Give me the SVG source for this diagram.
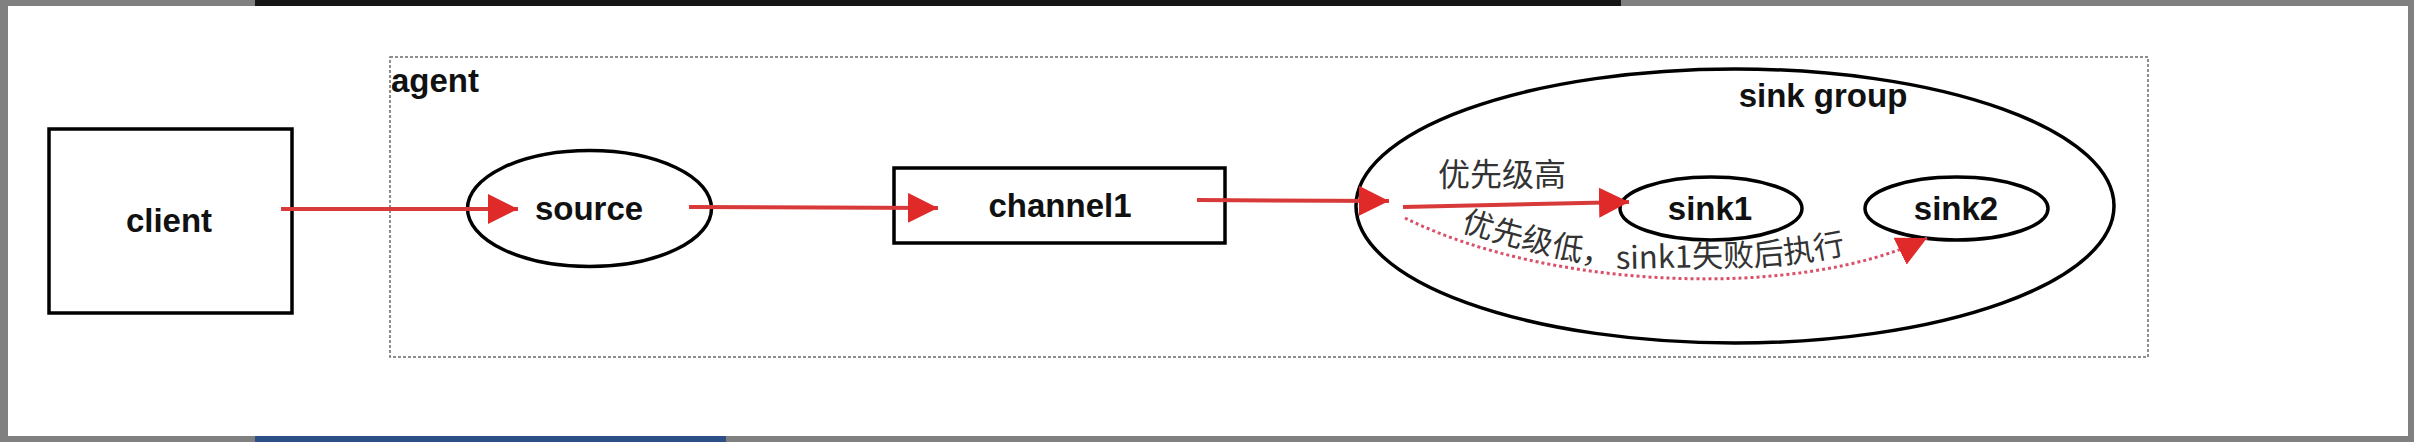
<svg xmlns="http://www.w3.org/2000/svg" xmlns:xlink="http://www.w3.org/1999/xlink" width="2414" height="442" viewBox="0 0 2414 442">
  <style>
    .box { fill: #ffffff; stroke: #000000; stroke-width: 3.5; }
    .node-text { font-family: "Liberation Sans", Arial, sans-serif; font-weight: bold; font-size: 33px; fill: #111111; text-anchor: middle; }
    .group-text { font-family: "Liberation Sans", Arial, sans-serif; font-weight: bold; font-size: 33px; fill: #111111; }
    .cn { font-family: "Noto Sans CJK SC", "Noto Sans", sans-serif; font-size: 32px; fill: #333333; }
    .cn-low { font-family: "Noto Sans CJK SC", "Noto Sans", sans-serif; font-size: 31px; fill: #333333; }
    .edge { fill: none; stroke: #d83a3a; stroke-width: 4; }
    .edge-dot { fill: none; stroke: #d9506a; stroke-width: 3; stroke-dasharray: 3 3; }
  </style>
  <defs>
    <marker id="arrow" markerUnits="userSpaceOnUse" markerWidth="32" markerHeight="30" viewBox="0 0 32 30" refX="30" refY="15" orient="auto">
      <path d="M0,0 L30,15 L0,30 Z" fill="#e02a2a"/>
    </marker>
    <path id="lowPath1" d="M1455,229 Q1530,253 1614,268"/>
    <path id="lowPath2" d="M1614,269 L1760,266"/>
    <path id="lowPath3" d="M1754,266 Q1810,263 1872,248"/>
  </defs>

  <g id="frame">
    <rect x="0" y="0" width="2414" height="442" fill="#808080"/>
    <rect x="255" y="0" width="1366" height="6" fill="#161616"/>
    <rect x="255" y="436" width="471" height="6" fill="#2d4f85"/>
    <rect x="8" y="6" width="2400" height="430" fill="#ffffff"/>
  </g>

  <g id="agent">
    <rect x="390" y="57" width="1758" height="300" fill="none" stroke="#6a6a6a" stroke-width="1.5" stroke-dasharray="3 2"/>
    <text class="group-text" x="391" y="92">agent</text>
  </g>

  <g id="client">
    <rect class="box" x="49" y="129" width="243" height="184"/>
    <text class="node-text" x="169" y="232">client</text>
  </g>

  <g id="source">
    <ellipse class="box" cx="589.5" cy="208.5" rx="122" ry="58"/>
    <text class="node-text" x="589" y="220">source</text>
  </g>

  <g id="channel1">
    <rect class="box" x="894" y="168" width="331" height="75"/>
    <text class="node-text" x="1060" y="217">channel1</text>
  </g>

  <g id="sinkgroup">
    <ellipse class="box" cx="1735" cy="206" rx="379" ry="137" fill="none"/>
    <text class="node-text" x="1823" y="107">sink group</text>
  </g>

  <g id="sink1">
    <ellipse class="box" cx="1711" cy="208.5" rx="91" ry="31.5"/>
    <text class="node-text" x="1710" y="220">sink1</text>
  </g>

  <g id="sink2">
    <ellipse class="box" cx="1956.5" cy="208.5" rx="91.5" ry="31.5"/>
    <text class="node-text" x="1956" y="220">sink2</text>
  </g>

  <g id="connectors">
    <path class="edge" d="M281,209 L518,209" marker-end="url(#arrow)"/>
    <path class="edge" d="M689,207 L938,208" marker-end="url(#arrow)"/>
    <path class="edge" d="M1197,200 L1389,201" marker-end="url(#arrow)"/>
    <path class="edge" d="M1403,207 L1629,202" marker-end="url(#arrow)"/>
    <path class="edge-dot" d="M1405,218 C1550,290 1800,300 1927,238" marker-end="url(#arrow)"/>
  </g>

  <g id="edge-labels">
    <text class="cn" x="1438" y="186">优先级高</text>
    <text class="cn-low"><textPath xlink:href="#lowPath1" href="#lowPath1" startOffset="6">优先级低，</textPath></text>
    <text class="cn-low"><textPath xlink:href="#lowPath2" href="#lowPath2" startOffset="2">sink1失败</textPath></text>
    <text class="cn-low"><textPath xlink:href="#lowPath3" href="#lowPath3" startOffset="0">后执行</textPath></text>
  </g>
</svg>
